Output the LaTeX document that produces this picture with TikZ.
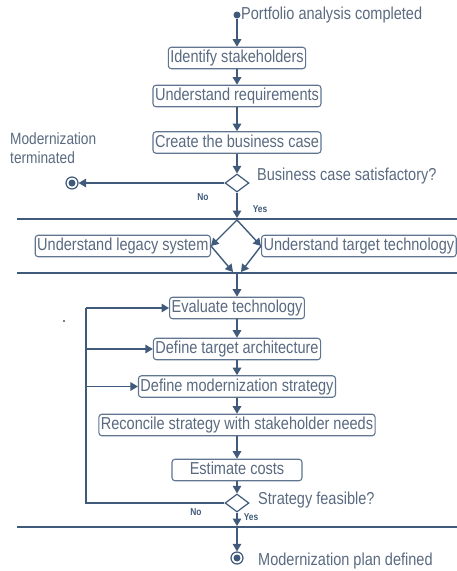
\documentclass[tikz,border=0pt]{standalone}
\usepackage{fontspec}
\setmainfont{Liberation Sans}[FakeStretch=0.84]
\usetikzlibrary{shapes.geometric,arrows.meta}
\definecolor{ln}{HTML}{3F5A7A}
\definecolor{bx}{HTML}{5F7590}
\definecolor{tx}{HTML}{5A6A80}
\begin{document}
\begin{tikzpicture}[x=1pt,y=-1pt,
  box/.style={draw=bx, line width=1.1pt, rounded corners=3pt, fill=white, text=tx,
    font=\fontsize{17.3}{19}\selectfont, inner xsep=2pt, inner ysep=3pt,
    text height=12.3pt, text depth=3.2pt},
  arr/.style={draw=ln, line width=1.4pt, -{Triangle[width=8.5pt,length=7.5pt]}},
  plain/.style={draw=ln, line width=1.4pt},
  lbl/.style={text=tx, font=\fontsize{17.3}{19}\selectfont, inner sep=0},
  yn/.style={text=ln, font=\bfseries\fontsize{10}{11}\selectfont, inner sep=0},
  bar/.style={fill=ln, minimum height=2.8pt, minimum width=453pt, inner sep=0},
  dec/.style={draw=ln, fill=white, line width=1.2pt, shape=diamond, aspect=1.33,
    minimum width=24pt, minimum height=18pt, inner sep=0}
]
\useasboundingbox (0,0) rectangle (456,571);

% start
\node[circle, fill=ln, minimum size=7pt, inner sep=0] (start) at (237,15) {};
\node[lbl, anchor=west] (startl) at (241,15) {Portfolio analysis completed};

\node[box] (id) at (237,58) {Identify stakeholders};
\node[box] (req) at (237,96) {Understand requirements};
\node[box] (bc) at (237,142.5) {Create the business case};
\node[dec] (d1) at (237,183) {};
\node[lbl, anchor=west] (d1l) at (257,176) {Business case satisfactory?};

\node[circle, draw=ln, line width=1.2pt, fill=white, minimum size=12pt, inner sep=0] (term) at (72,183) {};
\node[circle, fill=ln, minimum size=7pt, inner sep=0] (termin) at (72,183) {};
\node[lbl, anchor=west, align=left, font=\fontsize{16.3}{19}\selectfont] (terml) at (10,148.5) {Modernization\\terminated};

\node[yn] (no1) at (203,197) {No};
\node[yn] (yes1) at (260,209) {Yes};

% fork / join
\node[bar] (fork) at (243.5,219) {};
\node[bar] (join) at (243.5,273) {};
\coordinate (f1) at (237,218);
\coordinate (f1o) at (237,220);
\coordinate (j1l) at (233,272);
\coordinate (j1r) at (241,272);
\coordinate (j1o) at (237,274);

\node[box, anchor=east] (leg) at (211,246) {Understand legacy system};
\node[box, anchor=west] (tgt) at (261,246) {Understand target technology};

\node[box] (ev) at (237,308) {Evaluate technology};
\node[box] (dt) at (237,349) {Define target architecture};
\node[box] (dm) at (237,386.5) {Define modernization strategy};
\node[box] (rc) at (237,425) {Reconcile strategy with stakeholder needs};
\node[box, minimum width=130pt] (ec) at (237,470) {Estimate costs};
\node[dec] (d2) at (237,503) {};
\node[lbl, anchor=west] (d2l) at (258,500) {Strategy feasible?};
\node[yn] (no2) at (196,512) {No};
\node[yn] (yes2) at (251,517) {Yes};

\node[bar] (bar3) at (243.5,527) {};
\coordinate (b3i) at (237,526);
\coordinate (b3o) at (237,528);

\node[circle, draw=ln, line width=1.2pt, fill=white, minimum size=12pt, inner sep=0] (endc) at (237,558) {};
\node[circle, fill=ln, minimum size=7pt, inner sep=0] (endin) at (237,558) {};
\node[lbl, anchor=west] (endl) at (258,561) {Modernization plan defined};

% stray dot
\node[circle, fill=black, minimum size=1.8pt, inner sep=0] (dot) at (64,321) {};

% loop corners
\coordinate (lp) at (86,503);
\coordinate (lt) at (86,308);

% connectors
\draw[arr] (start) -- (id.north);
\draw[arr] (id.south) -- (req.north);
\draw[arr] (req.south) -- (bc.north);
\draw[arr] (bc.south) -- (d1.north);
\draw[arr] (d1.west) -- (term.east);
\draw[arr] (d1.south) -- (f1);
\draw[arr] (f1o) -- (leg.east);
\draw[arr] (f1o) -- (tgt.west);
\draw[arr] (leg.east) -- (j1l);
\draw[arr] (tgt.west) -- (j1r);
\draw[arr] (j1o) -- (ev.north);
\draw[arr] (ev.south) -- (dt.north);
\draw[arr] (dt.south) -- (dm.north);
\draw[arr] (dm.south) -- (rc.north);
\draw[arr] (rc.south) -- (ec.north);
\draw[arr] (ec.south) -- (d2.north);
\draw[plain] (d2.west) -- (lp) -- (lt);
\draw[arr] (lt) -- (ev.west);
\draw[arr] (lt |- dt) -- (dt.west);
\draw[arr] (lt |- dm) -- (dm.west);
\draw[arr] (d2.south) -- (b3i);
\draw[arr] (b3o) -- (endc.north);
\end{tikzpicture}
\end{document}
